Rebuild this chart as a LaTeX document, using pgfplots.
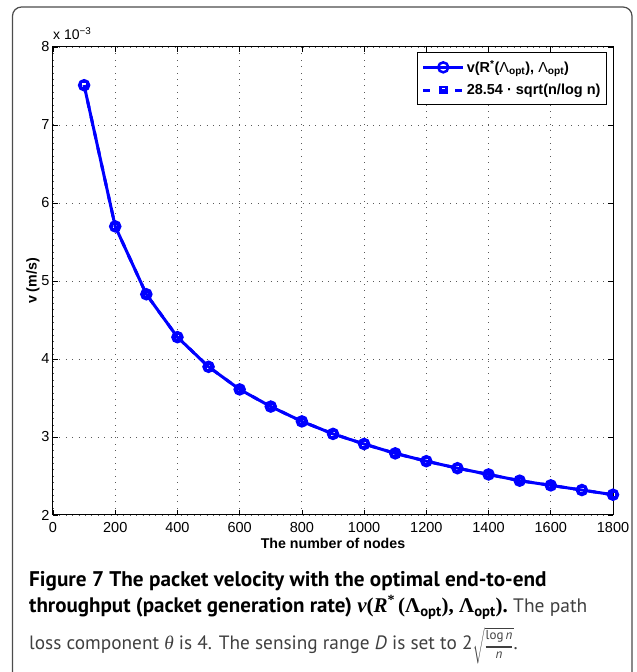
\documentclass[border=0pt]{standalone}
\usepackage{amsmath}
\usepackage{fontspec}
\setmainfont{Liberation Sans}
\newfontfamily\capfont{PT Sans}
\newfontfamily\tnr{Liberation Serif}
\usepackage{pgfplots}
\pgfplotsset{compat=1.18}
\definecolor{mblue}{RGB}{0,0,255}
\begin{document}
\begin{tikzpicture}[x=1pt,y=1pt]
\useasboundingbox (0,0) rectangle (637,672);
\draw[black!70, line width=1.2pt, rounded corners=9pt] (12.5,-5) -- (12.5,665) -- (632,665) -- (632,-5);
\begin{axis}[
 at={(53pt,157pt)}, anchor=south west, scale only axis, width=560pt, height=468pt,
 xmin=0, xmax=1800, ymin=2, ymax=8,
 xtick={0,200,...,1800}, ytick={2,3,...,8},
 grid=major, grid style={black!65, line width=0.8pt, dash pattern=on 0.8pt off 5.6pt},
 axis line style={line width=1pt},
 major tick length=5pt, tick style={black, line width=0.7pt},
 tick align=inside,
 /pgf/number format/assume math mode=true,
 /pgf/number format/1000 sep={},
 ticklabel style={font=\fontsize{14.5}{17}\selectfont},
 xticklabel style={anchor=base, yshift=-17pt},
 xlabel={The number of nodes}, ylabel={v (m/s)},
 label style={font=\fontsize{14.2}{17}\selectfont\bfseries},
 xlabel style={at={(axis description cs:0.5,0)}, anchor=base, yshift=-34pt},
 ylabel style={at={(axis description cs:-0.0357,0.5)}, anchor=center},
 legend style={at={(1,1)}, anchor=north east, xshift=-6pt, yshift=-5pt,
   font=\fontsize{14.5}{17}\selectfont\bfseries, draw=black, line width=1pt,
   inner xsep=4pt, inner ysep=6pt, row sep=6pt, cells={anchor=west}},
 legend image code/.code={\draw[mark repeat=2,mark phase=2] plot coordinates {(0pt,0pt) (20pt,0pt) (40pt,0pt)};},
]
\addplot[mblue, line width=3pt, mark=o, mark size=5pt, mark options={line width=2.5pt}] coordinates {
(100,7.51) (200,5.70) (300,4.83) (400,4.28) (500,3.90) (600,3.61) (700,3.39) (800,3.20) (900,3.04)
(1000,2.91) (1100,2.79) (1200,2.69) (1300,2.60) (1400,2.52) (1500,2.44) (1600,2.38) (1700,2.32) (1800,2.26)};
\addlegendentry{v(R\textsuperscript{*}(\textmd{Λ}\textsubscript{opt}), \textmd{Λ}\textsubscript{opt})}
\addplot[mblue, line width=3pt, dash pattern=on 7pt off 9pt, mark=square, mark size=3pt, mark options={solid, line width=2.5pt}] coordinates {
(100,7.51) (200,5.70) (300,4.83) (400,4.28) (500,3.90) (600,3.61) (700,3.39) (800,3.20) (900,3.04)
(1000,2.91) (1100,2.79) (1200,2.69) (1300,2.60) (1400,2.52) (1500,2.44) (1600,2.38) (1700,2.32) (1800,2.26)};
\addlegendentry{28.54 · sqrt(n/log n)}
\end{axis}
\node[anchor=base west, inner sep=0, font=\fontsize{14}{16}\selectfont] at (53,632) {x 10\textsuperscript{−3}};
\node[anchor=base west, inner sep=0, font=\capfont\fontsize{21.2}{24}\selectfont\bfseries] at (29,85) {Figure 7 The packet velocity with the optimal end-to-end};
\node[anchor=base west, inner sep=0, font=\capfont\fontsize{21}{24}\selectfont] at (29,59) {\bfseries throughput (packet generation rate) {\tnr\itshape ν}{\tnr(}{\tnr\itshape R}{\tnr\raisebox{0.4em}{\fontsize{14}{14}\selectfont *}\,(Λ}\textsubscript{opt}{\tnr), Λ}\textsubscript{opt}{\tnr).}{\mdseries\fontsize{19.5}{24}\selectfont\color{black!75}\ The path}};
\node[anchor=base west, inner sep=0, font=\capfont\fontsize{19.3}{24}\selectfont, text=black!75] at (29,22) {loss component {\tnr\itshape θ} is 4. The sensing range {\itshape D} is set to 2{\fontsize{13}{16}\selectfont$\sqrt{\genfrac{}{}{1.2pt}{0}{\mbox{\rule[-3pt]{0pt}{12pt}\capfont\fontsize{13}{14}\selectfont log\,\itshape n}}{\mbox{\rule[-4pt]{0pt}{11pt}\capfont\fontsize{13}{14}\selectfont\itshape n}}}$}.};
\end{tikzpicture}
\end{document}
